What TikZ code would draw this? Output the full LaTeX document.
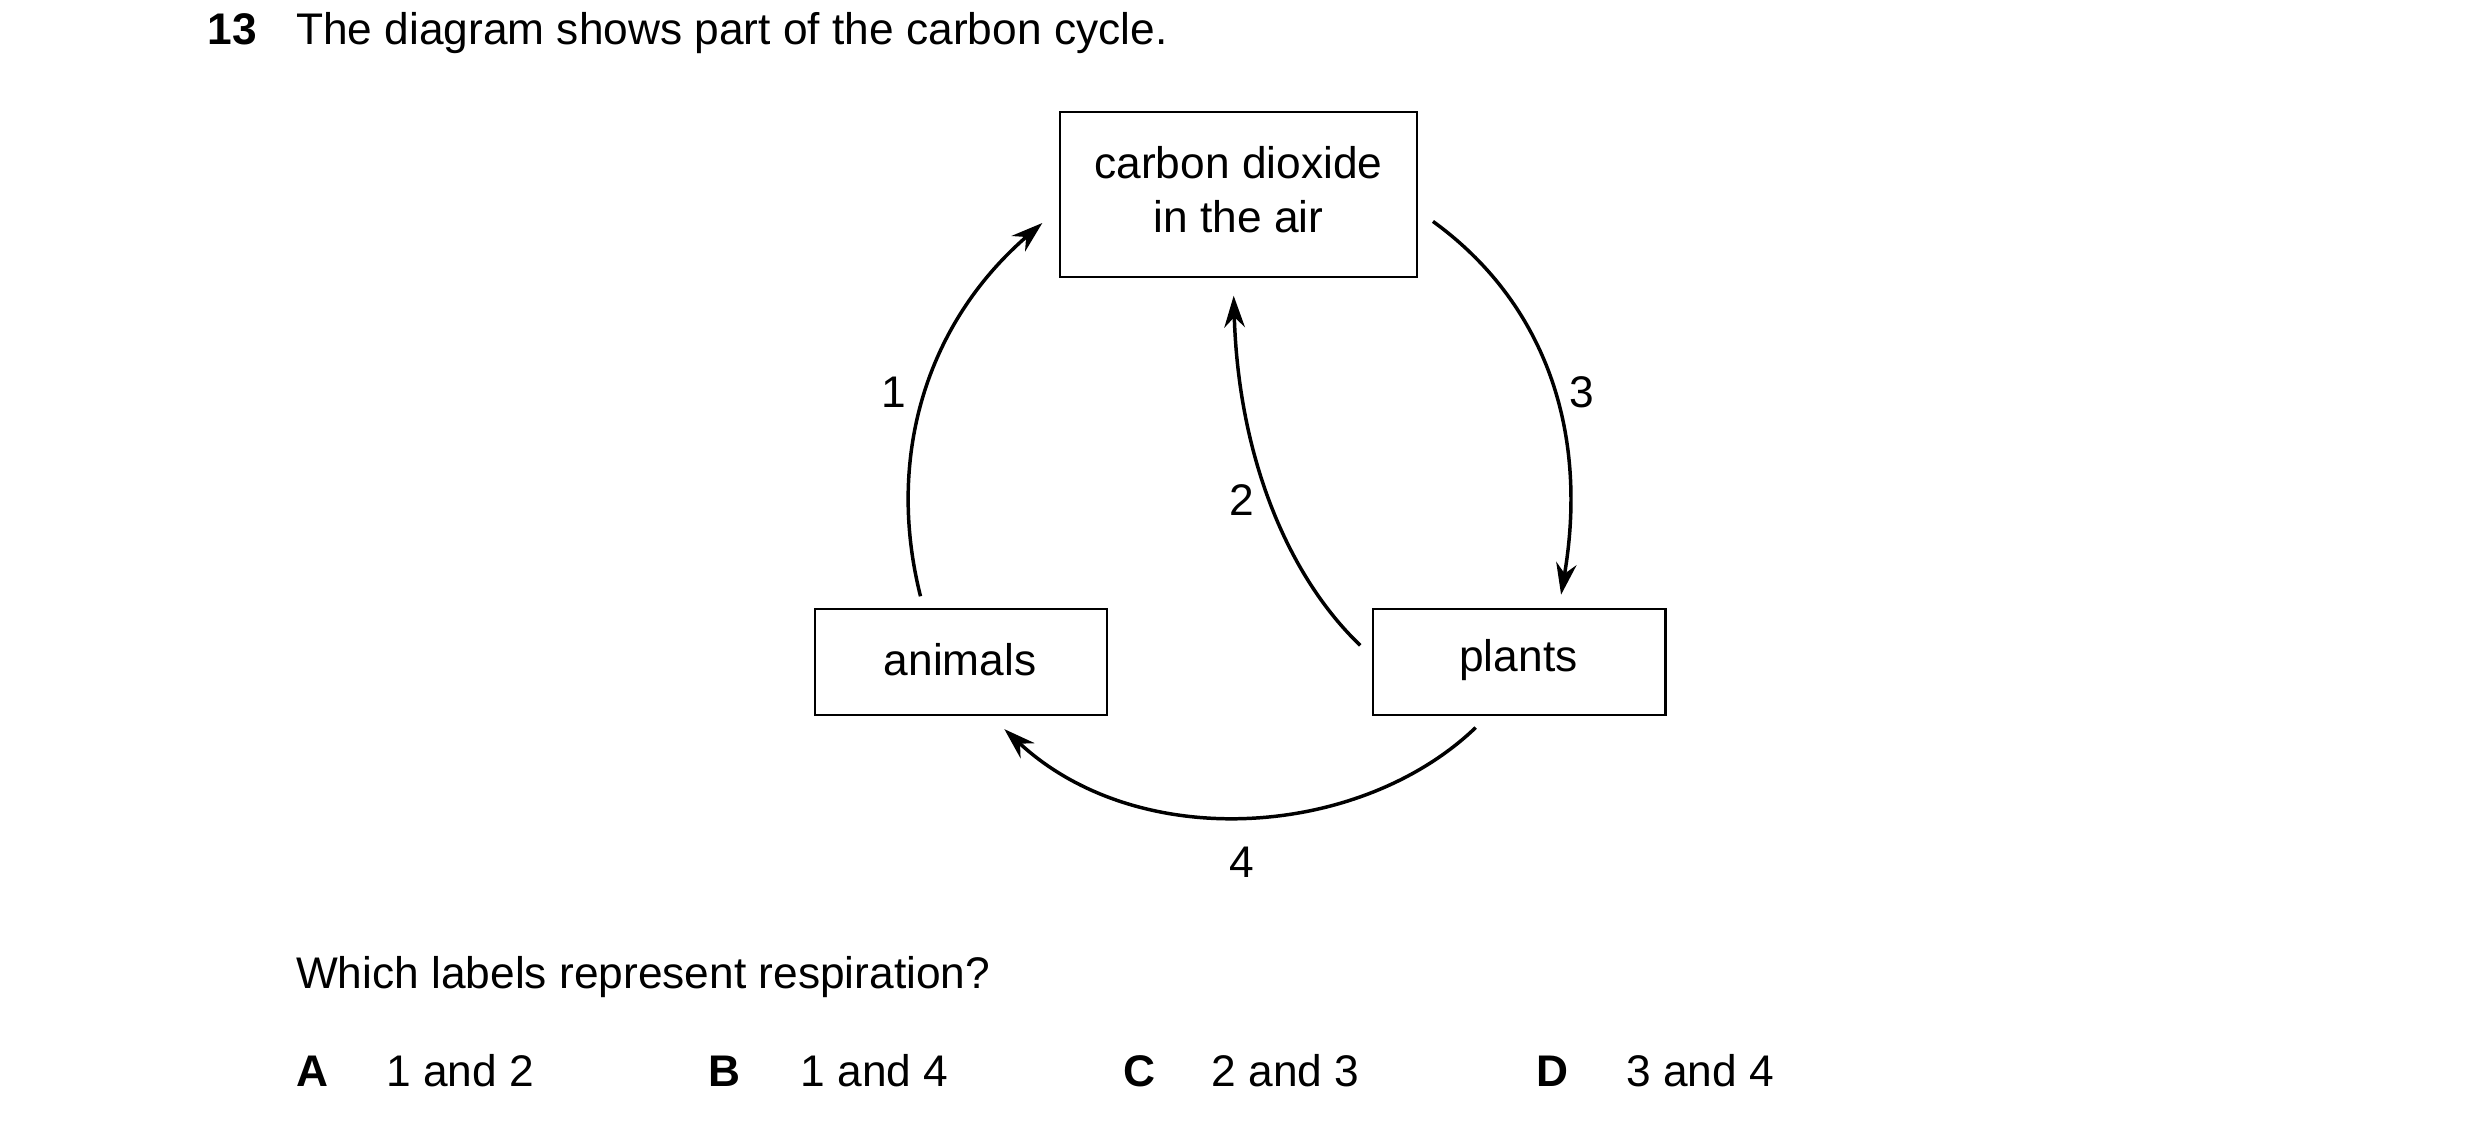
\documentclass[tikz,border=0pt]{standalone}
\usepackage{fontspec}
\setmainfont{Liberation Sans}
\usetikzlibrary{arrows.meta}
\begin{document}
\begin{tikzpicture}[x=1pt,y=-1pt,
  box/.style={draw,line width=1.3pt,inner sep=0pt},
  arr/.style={line width=2.2pt,-{Stealth[length=20pt,width=13pt]}},
  txt/.style={font=\fontsize{28}{34}\selectfont,inner sep=0pt},
  lab/.style={txt,anchor=base west}]
\useasboundingbox (0,0) rectangle (1568,712);
\node[lab] (q) at (131,28) {\textbf{13}};
\node[lab] (qt) at (187,28) {The diagram shows part of the carbon cycle.};
\draw[box] (670,71) rectangle (896,175);
\node[txt,align=center] (co2) at (783,120) {carbon dioxide\\in the air};
\draw[box] (515,385) rectangle (700,452);
\node[txt] (an) at (607,417) {animals};
\draw[box] (868,385) rectangle (1053,452);
\node[txt] (pl) at (960,417) {plants};
\coordinate (a1) at (582,377); \coordinate (b1) at (659,141);
\coordinate (a2) at (860,408); \coordinate (b2) at (780,187);
\coordinate (a3) at (906,140); \coordinate (b3) at (987,376);
\coordinate (a4) at (933,460); \coordinate (b4) at (635,461);
\draw[arr] (a1) .. controls (560,290) and (585,205) .. (b1);
\draw[arr] (a2) .. controls (815,365) and (783,290) .. (b2);
\draw[arr] (a3) .. controls (975,190) and (1005,270) .. (b3);
\draw[arr] (a4) .. controls (860,530) and (720,540) .. (b4);
\node[txt] (l1) at (565,248) {1};
\node[txt] (l2) at (785,316) {2};
\node[txt] (l3) at (1000,248) {3};
\node[txt] (l4) at (785,545) {4};
\node[lab] (wq) at (187,625) {Which labels represent respiration?};
\node[lab] (oa) at (187,687) {\textbf{A}}; \node[lab] (ta) at (244,687) {1 and 2};
\node[lab] (ob) at (448,687) {\textbf{B}}; \node[lab] (tb) at (506,687) {1 and 4};
\node[lab] (oc) at (710,687) {\textbf{C}}; \node[lab] (tc) at (766,687) {2 and 3};
\node[lab] (od) at (971,687) {\textbf{D}}; \node[lab] (td) at (1028,687) {3 and 4};
\end{tikzpicture}
\end{document}
